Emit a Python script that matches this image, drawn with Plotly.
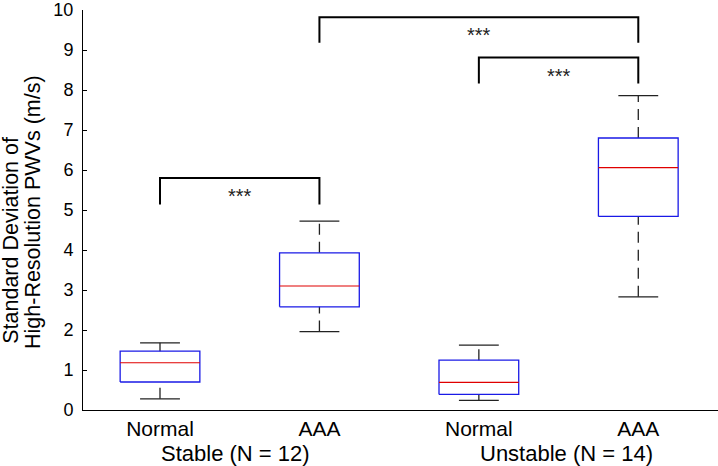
import plotly.graph_objects as go

# box statistics (m/s)
positions = [1, 2, 3, 4]
tick_labels = ["Normal", "AAA", "Normal", "AAA"]
lower_whisker = [0.28, 1.96, 0.24, 2.83]
q1 = [0.70, 2.58, 0.39, 4.84]
median = [1.18, 3.10, 0.69, 6.06]
q3 = [1.47, 3.93, 1.245, 6.80]
upper_whisker = [1.68, 4.72, 1.62, 7.86]

group_names = ["Stable (N = 12)", "Unstable (N = 14)"]

# significance brackets
bracket_from = [1, 3, 2]
bracket_to = [2, 4, 4]
bracket_leg = [5.14, 8.16, 9.18]
bracket_top = [5.80, 8.81, 9.82]
bracket_text = ["***", "***", "***"]

FONT = "Liberation Sans, Arial, Helvetica, sans-serif"
BOX_HALF = 0.25
CAP_HALF = 0.125

fig = go.Figure()

for i, x in enumerate(positions):
    # whiskers (drawn bottom to top, dashed)
    for y0, y1 in [(lower_whisker[i], q1[i]), (q3[i], upper_whisker[i])]:
        fig.add_trace(go.Scatter(
            x=[x, x], y=[y0, y1], mode="lines",
            line=dict(color="#222222", width=1.3, dash="11px,7px"),
            hoverinfo="skip", showlegend=False))
    # caps
    for yc in [lower_whisker[i], upper_whisker[i]]:
        fig.add_trace(go.Scatter(
            x=[x - CAP_HALF, x + CAP_HALF], y=[yc, yc], mode="lines",
            line=dict(color="#222222", width=1.3),
            hoverinfo="skip", showlegend=False))
    # box
    fig.add_trace(go.Scatter(
        x=[x - BOX_HALF, x + BOX_HALF, x + BOX_HALF, x - BOX_HALF, x - BOX_HALF],
        y=[q1[i], q1[i], q3[i], q3[i], q1[i]], mode="lines",
        line=dict(color="#1a1ae6", width=1.3),
        hoverinfo="skip", showlegend=False))
    # median
    fig.add_trace(go.Scatter(
        x=[x - BOX_HALF, x + BOX_HALF], y=[median[i], median[i]], mode="lines",
        line=dict(color="#e00000", width=1.1),
        hoverinfo="skip", showlegend=False))

for a, b, leg, top, txt in zip(bracket_from, bracket_to, bracket_leg, bracket_top, bracket_text):
    fig.add_trace(go.Scatter(
        x=[a, a, b, b], y=[leg, top, top, leg], mode="lines",
        line=dict(color="black", width=2),
        hoverinfo="skip", showlegend=False))
    fig.add_annotation(x=(a + b) / 2, y=top, text=txt, showarrow=False,
                       xanchor="center", yanchor="top", yshift=-5,
                       font=dict(family=FONT, size=20, color="#222222"))

# group labels under the tick labels
for gx, name in zip([1.475, 3.55], group_names):
    fig.add_annotation(x=gx, xref="x", y=0, yref="paper", yshift=-43,
                       text=name, showarrow=False, xanchor="center", yanchor="middle",
                       font=dict(family=FONT, size=22, color="black"))

# two-line y title
fig.add_annotation(x=0, xref="paper", xshift=-72, y=0.423, yref="paper",
                   text="Standard Deviation of", textangle=-90, showarrow=False,
                   xanchor="center", yanchor="middle",
                   font=dict(family=FONT, size=21.5, color="black"))
fig.add_annotation(x=0, xref="paper", xshift=-50, y=0.495, yref="paper",
                   text="High-Resolution PWVs (m/s)", textangle=-90, showarrow=False,
                   xanchor="center", yanchor="middle",
                   font=dict(family=FONT, size=21.5, color="black"))

fig.update_layout(
    width=718, height=466,
    margin=dict(l=83, r=0, t=10, b=56),
    paper_bgcolor="white", plot_bgcolor="white",
    font=dict(family=FONT, color="black"),
    xaxis=dict(
        range=[0.517, 4.5], showgrid=False, zeroline=False,
        showline=True, linecolor="black", linewidth=1,
        tickmode="array", tickvals=positions, ticktext=tick_labels,
        ticks="", tickfont=dict(family=FONT, size=21, color="black"),
    ),
    yaxis=dict(
        range=[0, 10], showgrid=False, zeroline=False,
        showline=True, linecolor="black", linewidth=1,
        tickmode="array", tickvals=list(range(0, 11)),
        ticks="inside", ticklen=4, tickcolor="black",
        ticklabelstandoff=5,
        tickfont=dict(family=FONT, size=18, color="black"),
    ),
)

# drop the page's default body margin so the figure sits at the window corner
fig.write_html("out.html", config={"displayModeBar": False},
               post_script="document.body.style.margin='0';")
